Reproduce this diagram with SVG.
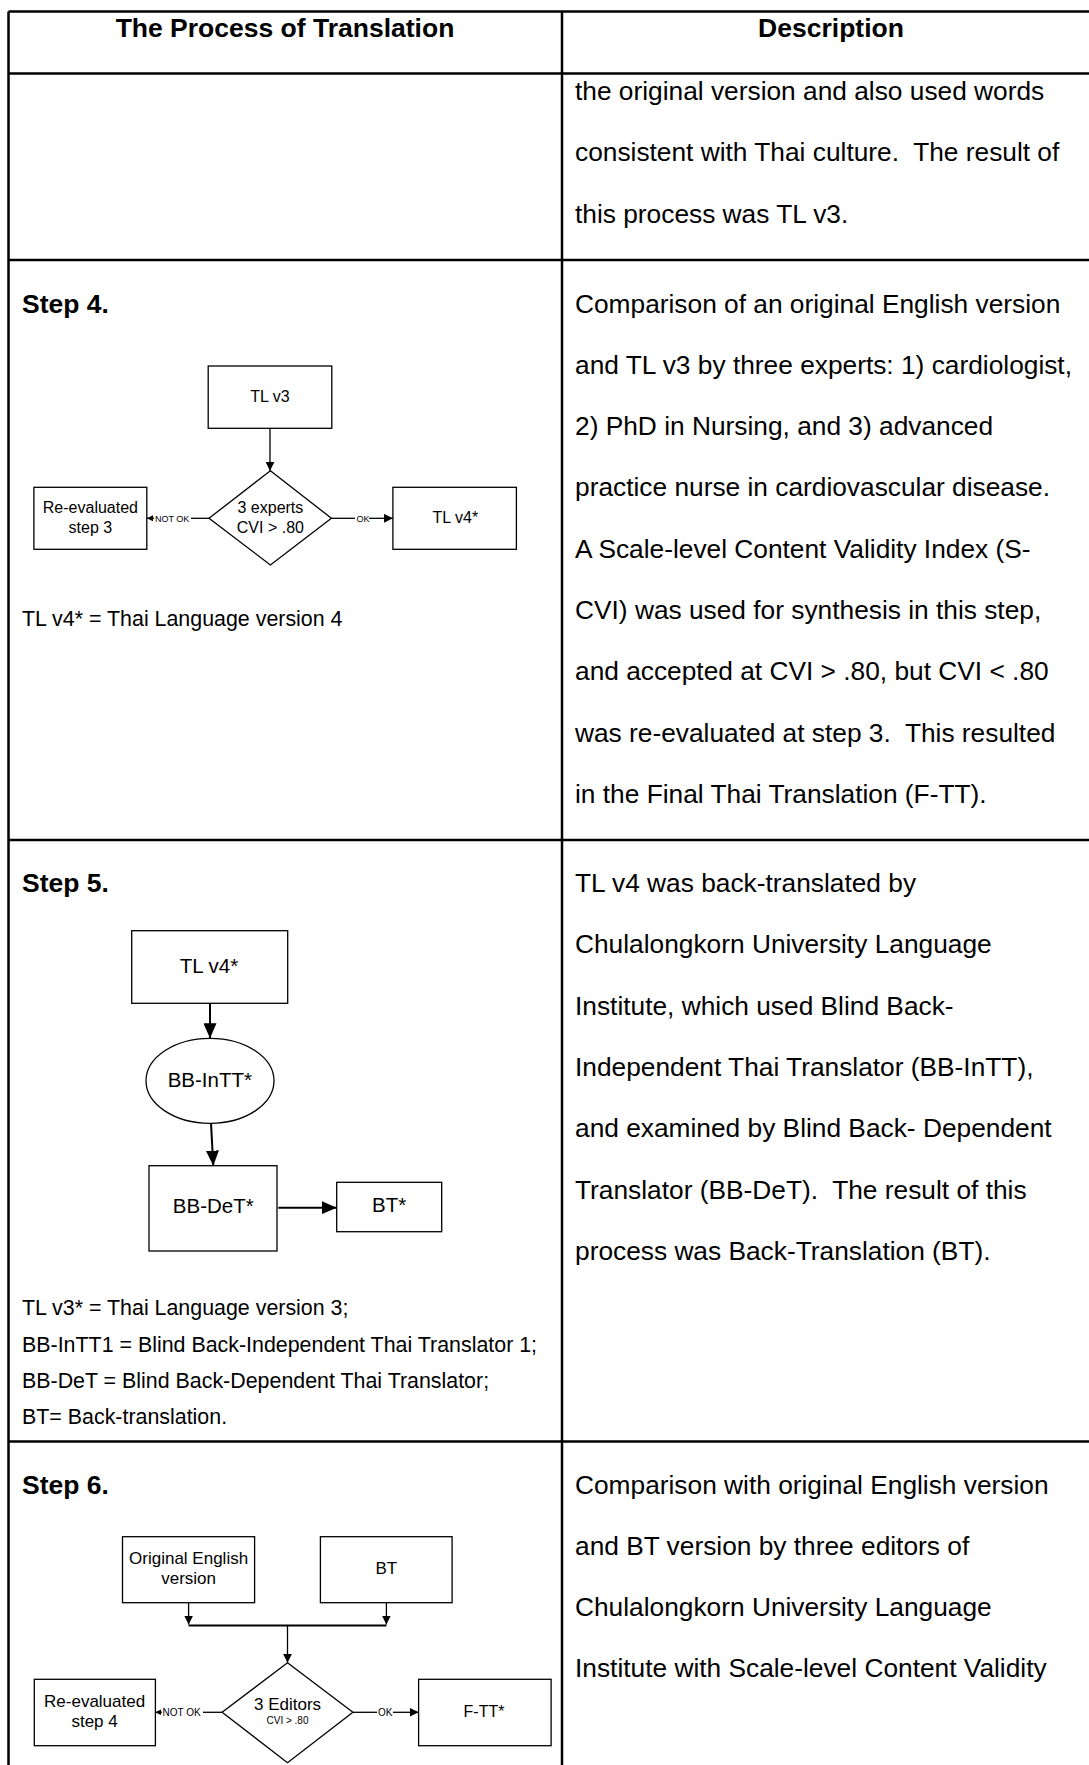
<svg xmlns="http://www.w3.org/2000/svg" width="1089" height="1765" viewBox="0 0 1089 1765">
  <style>
    text { font-family: "Liberation Sans", Arial, sans-serif; fill: #000; white-space: pre; }
    .hd { font-size: 26.5px; font-weight: bold; }
    .body { font-size: 26.3px; }
    .note { font-size: 21.4px; }
    .n16 { font-size: 16px; }
    .n17 { font-size: 17px; }
    .n20 { font-size: 20.5px; }
    .lbl { font-size: 9px; }
    .lbl10 { font-size: 10px; }
    .mid { text-anchor: middle; }
    .grid { stroke: #000; stroke-width: 2.5; fill: none; }
    .shape { stroke: #000; stroke-width: 1.3; fill: #fff; }
    .wire { stroke: #000; stroke-width: 1.3; fill: none; }
    .wire2 { stroke: #000; stroke-width: 2; fill: none; }
  </style>
  <defs>
    <marker id="arrowS" markerUnits="userSpaceOnUse" markerWidth="6" markerHeight="6" refX="6" refY="3" orient="auto">
      <path d="M0,0 L6,3 L0,6 z" fill="#000"/>
    </marker>
    <marker id="arrowM" markerUnits="userSpaceOnUse" markerWidth="9" markerHeight="9" refX="9" refY="4.5" orient="auto">
      <path d="M0,0 L9,4.5 L0,9 z" fill="#000"/>
    </marker>
    <marker id="arrowL" markerUnits="userSpaceOnUse" markerWidth="15" markerHeight="13" refX="15" refY="6.5" orient="auto">
      <path d="M0,0 L15,6.5 L0,13 z" fill="#000"/>
    </marker>
  </defs>

  <rect width="1089" height="1765" fill="#fff"/>

  <!-- table grid -->
  <g id="table">
    <path class="grid" d="M8.5,11.5 H1089 M8.5,73.5 H1089 M8.5,260 H1089 M8.5,840 H1089 M8.5,1441.5 H1089"/>
    <path class="grid" d="M8.5,11.5 V1765 M562,11.5 V1765"/>
    <text class="hd mid" x="285" y="37">The Process of Translation</text>
    <text class="hd mid" x="831" y="37">Description</text>
  </g>

  <!-- description column -->
  <g id="desc-step3">
    <text class="body" x="575" y="100">the original version and also used words</text>
    <text class="body" x="575" y="161.3">consistent with Thai culture.  The result of</text>
    <text class="body" x="575" y="222.6">this process was TL v3.</text>
  </g>
  <g id="desc-step4">
    <text class="body" x="575" y="312.5">Comparison of an original English version</text>
    <text class="body" x="575" y="373.8">and TL v3 by three experts: 1) cardiologist,</text>
    <text class="body" x="575" y="435.1">2) PhD in Nursing, and 3) advanced</text>
    <text class="body" x="575" y="496.4">practice nurse in cardiovascular disease.</text>
    <text class="body" x="575" y="557.7">A Scale-level Content Validity Index (S-</text>
    <text class="body" x="575" y="619">CVI) was used for synthesis in this step,</text>
    <text class="body" x="575" y="680.3">and accepted at CVI &gt; .80, but CVI &lt; .80</text>
    <text class="body" x="575" y="741.6">was re-evaluated at step 3.  This resulted</text>
    <text class="body" x="575" y="802.9">in the Final Thai Translation (F-TT).</text>
  </g>
  <g id="desc-step5">
    <text class="body" x="575" y="892">TL v4 was back-translated by</text>
    <text class="body" x="575" y="953.3">Chulalongkorn University Language</text>
    <text class="body" x="575" y="1014.6">Institute, which used Blind Back-</text>
    <text class="body" x="575" y="1075.9">Independent Thai Translator (BB-InTT),</text>
    <text class="body" x="575" y="1137.2">and examined by Blind Back- Dependent</text>
    <text class="body" x="575" y="1198.5">Translator (BB-DeT).  The result of this</text>
    <text class="body" x="575" y="1259.8">process was Back-Translation (BT).</text>
  </g>
  <g id="desc-step6">
    <text class="body" x="575" y="1493.5">Comparison with original English version</text>
    <text class="body" x="575" y="1554.8">and BT version by three editors of</text>
    <text class="body" x="575" y="1616.1">Chulalongkorn University Language</text>
    <text class="body" x="575" y="1677.4">Institute with Scale-level Content Validity</text>
  </g>

  <!-- step headings and notes -->
  <g id="headings">
    <text class="hd" x="22" y="312.5">Step 4.</text>
    <text class="hd" x="22" y="892">Step 5.</text>
    <text class="hd" x="22" y="1493.5">Step 6.</text>
  </g>
  <g id="notes">
    <text class="note" x="22" y="625.5">TL v4* = Thai Language version 4</text>
    <text class="note" x="22" y="1315">TL v3* = Thai Language version 3;</text>
    <text class="note" x="22" y="1351.5">BB-InTT1 = Blind Back-Independent Thai Translator 1;</text>
    <text class="note" x="22" y="1388">BB-DeT = Blind Back-Dependent Thai Translator;</text>
    <text class="note" x="22" y="1424">BT= Back-translation.</text>
  </g>

  <!-- connectors -->
  <g id="connectors">
    <!-- step 4 -->
    <path class="wire" d="M270,428.3 V470.7" marker-end="url(#arrowM)"/>
    <path class="wire" d="M209,518.3 H191"/>
    <path class="wire" d="M154,518.3 H147" marker-end="url(#arrowS)"/>
    <path class="wire" d="M331.4,518.3 H355"/>
    <path class="wire" d="M369,518.3 H392.9" marker-end="url(#arrowM)"/>
    <!-- step 5 -->
    <path class="wire2" d="M210,1003.3 V1038.3" marker-end="url(#arrowL)"/>
    <path class="wire2" d="M211,1123.3 L213.3,1165.7" marker-end="url(#arrowL)"/>
    <path class="wire2" d="M278.3,1207.7 H336.7" marker-end="url(#arrowL)"/>
    <!-- step 6 -->
    <path class="wire" d="M188.6,1602.7 V1624.5" marker-end="url(#arrowM)"/>
    <path class="wire" d="M386.4,1602.7 V1624.5" marker-end="url(#arrowM)"/>
    <path class="wire2" d="M188.6,1625.5 H386.4"/>
    <path class="wire" d="M287.5,1625.5 V1662.7" marker-end="url(#arrowM)"/>
    <path class="wire" d="M222.1,1712.3 H203"/>
    <path class="wire" d="M162,1712.3 H155.4" marker-end="url(#arrowS)"/>
    <path class="wire" d="M352.9,1712.3 H377"/>
    <path class="wire" d="M393,1712.3 H418.6" marker-end="url(#arrowM)"/>
    <text class="lbl" x="155" y="521.5">NOT OK</text>
    <text class="lbl" x="356.5" y="521.5">OK</text>
    <text class="lbl10" x="162.5" y="1715.8">NOT OK</text>
    <text class="lbl10" x="378" y="1715.8">OK</text>
  </g>

  <!-- step 4 nodes -->
  <g id="s4-tlv3">
    <rect class="shape" x="208.2" y="366" width="123.6" height="62.3"/>
    <text class="n16 mid" x="270" y="402">TL v3</text>
  </g>
  <g id="s4-experts">
    <polygon class="shape" points="270.4,470.7 331.4,518.3 270.4,565 209,518.3"/>
    <text class="n16 mid" x="270.4" y="513.3">3 experts</text>
    <text class="n16 mid" x="270.4" y="532.7">CVI &gt; .80</text>
  </g>
  <g id="s4-reeval">
    <rect class="shape" x="33.9" y="487.3" width="112.9" height="62"/>
    <text class="n16 mid" x="90.4" y="513.3">Re-evaluated</text>
    <text class="n16 mid" x="90.4" y="532.7">step 3</text>
  </g>
  <g id="s4-tlv4">
    <rect class="shape" x="392.9" y="487.3" width="123.5" height="62"/>
    <text class="n16 mid" x="455.4" y="523.3">TL v4*</text>
  </g>

  <!-- step 5 nodes -->
  <g id="s5-tlv4">
    <rect class="shape" x="131.7" y="930.7" width="156" height="72.6"/>
    <text class="n20 mid" x="209" y="973.3">TL v4*</text>
  </g>
  <g id="s5-bbintt">
    <ellipse class="shape" cx="210" cy="1080.8" rx="64" ry="42.5"/>
    <text class="n20 mid" x="209.8" y="1087">BB-InTT*</text>
  </g>
  <g id="s5-bbdet">
    <rect class="shape" x="149" y="1165.7" width="128" height="85.3"/>
    <text class="n20 mid" x="213.3" y="1213.3">BB-DeT*</text>
  </g>
  <g id="s5-bt">
    <rect class="shape" x="336.7" y="1182.3" width="105" height="49.4"/>
    <text class="n20 mid" x="389.2" y="1211.7">BT*</text>
  </g>

  <!-- step 6 nodes -->
  <g id="s6-original">
    <rect class="shape" x="122.5" y="1536.7" width="132.1" height="66"/>
    <text class="n17 mid" x="188.6" y="1564">Original English</text>
    <text class="n17 mid" x="188.6" y="1584">version</text>
  </g>
  <g id="s6-bt">
    <rect class="shape" x="320.4" y="1536.7" width="131.7" height="66"/>
    <text class="n17 mid" x="386.4" y="1574">BT</text>
  </g>
  <g id="s6-editors">
    <polygon class="shape" points="287.5,1662.7 352.9,1712.3 287.5,1762.7 222.1,1712.3"/>
    <text class="n17 mid" x="287.5" y="1710">3 Editors</text>
    <text class="lbl10 mid" x="287.5" y="1724">CVI &gt; .80</text>
  </g>
  <g id="s6-reeval">
    <rect class="shape" x="34.3" y="1679.3" width="121.1" height="66.4"/>
    <text class="n17 mid" x="94.6" y="1706.7">Re-evaluated</text>
    <text class="n17 mid" x="94.6" y="1727.3">step 4</text>
  </g>
  <g id="s6-ftt">
    <rect class="shape" x="418.6" y="1679.3" width="132.5" height="66.4"/>
    <text class="n16 mid" x="484" y="1717.3">F-TT*</text>
  </g>
</svg>
